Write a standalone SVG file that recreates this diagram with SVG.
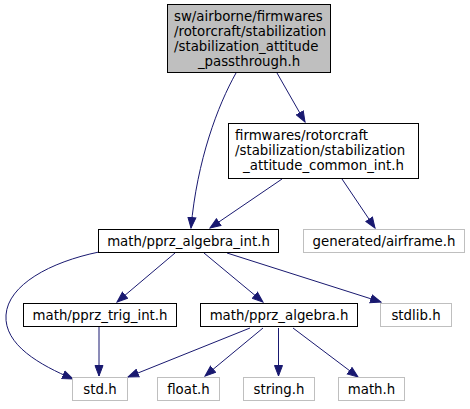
<svg xmlns="http://www.w3.org/2000/svg" width="470" height="409" viewBox="0 0 470 409">
<defs>
<style>
text{font-family:"DejaVu Sans","Liberation Sans",sans-serif;font-size:13.33px;fill:#000}
.c{text-anchor:middle}
.n rect{fill:#fff;stroke:#000;stroke-width:1}
.g rect{fill:#fff;stroke:#bfbfbf;stroke-width:1}
.top rect{fill:#bfbfbf;stroke:#000;stroke-width:1}
.e path{fill:none;stroke:#191970;stroke-width:1;marker-end:url(#a)}
</style>
<marker id="a" markerUnits="userSpaceOnUse" markerWidth="12" markerHeight="10" refX="11" refY="4.5" orient="auto" viewBox="0 0 12 9">
<path d="M0.5,0.5 L11,4.5 L0.5,8.5 Z" fill="#191970" stroke="#191970" stroke-width="1"/>
</marker>
</defs>
<rect width="470" height="409" fill="#fff"/>
<g id="edges" class="e">
<path d="M236,73 C218,105 197,160 191,228"/>
<path d="M277,73 L305,122"/>
<path d="M282,179 L210,228"/>
<path d="M342,179 L375,228"/>
<path d="M99,252 C50,262 8,285 6,315 C4,345 40,365 73,379"/>
<path d="M175,253 L117,302"/>
<path d="M204,253 L263,302"/>
<path d="M227,253 L381,302"/>
<path d="M99,327 L99,376"/>
<path d="M250,328 L128,377"/>
<path d="M263,328 L205,376"/>
<path d="M278.5,328 L278.5,376"/>
<path d="M293,328 L358,377"/>
</g>
<g id="n_top" class="top">
<rect x="167.5" y="4.5" width="163" height="68"/>
<text x="174" y="21">sw/airborne/firmwares</text>
<text x="174" y="36">/rotorcraft/stabilization</text>
<text x="174" y="51">/stabilization_attitude</text>
<text x="249" y="66" class="c">_passthrough.h</text>
</g>
<g id="n_common" class="n">
<rect x="228.5" y="123.5" width="190" height="55"/>
<text x="235" y="140">firmwares/rotorcraft</text>
<text x="235" y="155">/stabilization/stabilization</text>
<text x="323.5" y="170" class="c">_attitude_common_int.h</text>
</g>
<g id="n_int" class="n">
<rect x="98.5" y="229.5" width="180" height="23"/>
<text x="188.5" y="245.5" class="c">math/pprz_algebra_int.h</text>
</g>
<g id="n_airframe" class="g">
<rect x="303.5" y="229.5" width="161" height="23"/>
<text x="384" y="245.5" class="c">generated/airframe.h</text>
</g>
<g id="n_trig" class="n">
<rect x="23.5" y="303.5" width="153" height="23"/>
<text x="100" y="319.5" class="c">math/pprz_trig_int.h</text>
</g>
<g id="n_alg" class="n">
<rect x="200.5" y="303.5" width="157" height="23"/>
<text x="279" y="319.5" class="c">math/pprz_algebra.h</text>
</g>
<g id="n_stdlib" class="g">
<rect x="380.5" y="303.5" width="71" height="23"/>
<text x="416" y="319.5" class="c">stdlib.h</text>
</g>
<g id="n_std" class="g">
<rect x="72.5" y="377.5" width="55" height="23"/>
<text x="100" y="393.5" class="c">std.h</text>
</g>
<g id="n_float" class="g">
<rect x="157.5" y="377.5" width="62" height="23"/>
<text x="188.5" y="393.5" class="c">float.h</text>
</g>
<g id="n_string" class="g">
<rect x="243.5" y="377.5" width="71" height="23"/>
<text x="279" y="393.5" class="c">string.h</text>
</g>
<g id="n_math" class="g">
<rect x="338.5" y="377.5" width="66" height="23"/>
<text x="371.5" y="393.5" class="c">math.h</text>
</g>
</svg>
